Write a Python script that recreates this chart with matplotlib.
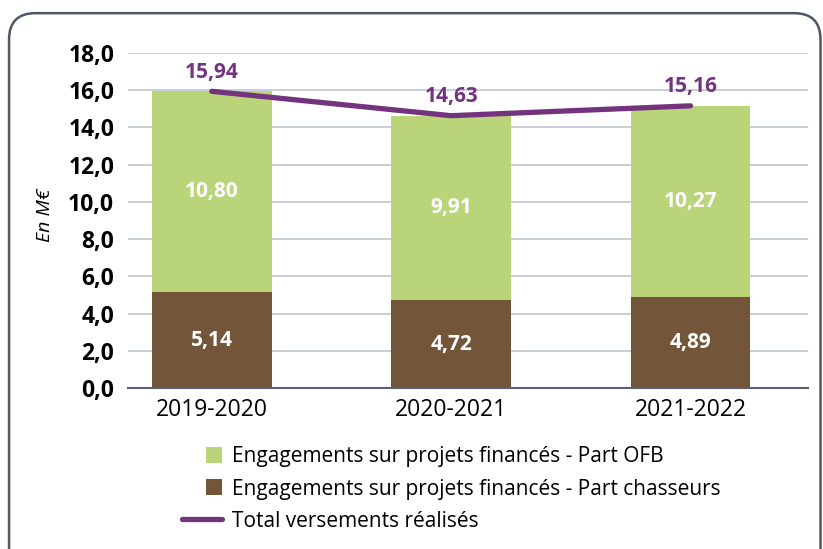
import matplotlib.pyplot as plt
import numpy as np
from matplotlib.patches import FancyBboxPatch, Rectangle
from matplotlib.container import BarContainer
from matplotlib.legend_handler import HandlerPatch, update_from_first_child

# data
periodes = ['2019-2020', '2020-2021', '2021-2022']
part_chasseurs = [5.14, 4.72, 4.89]
part_ofb = [10.80, 9.91, 10.27]
total_versements = [15.94, 14.63, 15.16]

vert = '#bad47a'
brun = '#735539'
violet = '#74337f'

plt.rcParams['font.family'] = ['Open Sans', 'DejaVu Sans']

fig = plt.figure(figsize=(8.23, 5.49), dpi=100)
ax = fig.add_axes([0.1555, 0.2933, 0.826, 0.6102])

# rounded frame around the whole chart
cadre = FancyBboxPatch((0.011, -0.05), 0.986, 1.026, transform=fig.transFigure,
                       boxstyle='round,pad=0,rounding_size=0.032',
                       facecolor='none', edgecolor='#4f5665', linewidth=1.8,
                       mutation_aspect=823 / 549)
fig.patches.append(cadre)

x = np.arange(len(periodes))
ax.bar(x, part_chasseurs, width=0.5, color=brun, zorder=3,
       label='Engagements sur projets financés - Part chasseurs')
ax.bar(x, part_ofb, width=0.5, bottom=part_chasseurs, color=vert, zorder=3,
       label='Engagements sur projets financés - Part OFB')
ax.plot(x, total_versements, color=violet, linewidth=3.8, solid_capstyle='round',
        zorder=4, label='Total versements réalisés')

for i in range(len(x)):
    ax.text(x[i], part_chasseurs[i] / 2, f'{part_chasseurs[i]:.2f}'.replace('.', ','),
            ha='center', va='center', color='white', fontsize=15, fontweight='bold', zorder=5)
    ax.text(x[i], part_chasseurs[i] + part_ofb[i] / 2, f'{part_ofb[i]:.2f}'.replace('.', ','),
            ha='center', va='center', color='white', fontsize=15, fontweight='bold', zorder=5)
    ax.text(x[i], total_versements[i] + 0.45, f'{total_versements[i]:.2f}'.replace('.', ','),
            ha='center', va='bottom', color=violet, fontsize=15, fontweight='bold', zorder=5)

ax.set_ylim(0, 18)
ax.set_xlim(-0.35, 2.49)
ax.set_yticks(np.arange(0, 19, 2))
ax.set_yticklabels([f'{v:.1f}'.replace('.', ',') for v in np.arange(0, 19, 2)],
                   fontsize=16.5, fontweight='bold')
ax.set_xticks(x)
ax.set_xticklabels(periodes, fontsize=16.5)
ax.tick_params(axis='both', length=0, pad=10)
ax.tick_params(axis='x', pad=7)
ax.grid(axis='y', color='#c9cdd8', linewidth=1.4, zorder=0)
for s in ['top', 'right', 'left']:
    ax.spines[s].set_visible(False)
ax.spines['bottom'].set_color('#5a6070')
ax.spines['bottom'].set_linewidth(1.5)
ax.spines['bottom'].set_zorder(4)

fig.text(0.055, 0.608, 'En M€', rotation=90, ha='center', va='center',
         fontsize=14, style='italic')


# square legend markers aligned to the right of the handle box
def carre(legend, orig_handle, xdescent, ydescent, width, height, fontsize):
    return Rectangle((-xdescent + width - height, -ydescent), height, height)


h, l = ax.get_legend_handles_labels()
ordre = ['Engagements sur projets financés - Part OFB',
         'Engagements sur projets financés - Part chasseurs',
         'Total versements réalisés']
hh = [h[l.index(n)] for n in ordre]
fig.legend(hh, ordre, loc='upper left',
           bbox_to_anchor=(0.209, 0.206), frameon=False, fontsize=15,
           handlelength=1.9, handleheight=0.82, handletextpad=0.5, labelspacing=0.54,
           borderpad=0,
           handler_map={BarContainer: HandlerPatch(patch_func=carre,
                                                   update_func=update_from_first_child)})

fig.savefig('out.png', dpi=100)
